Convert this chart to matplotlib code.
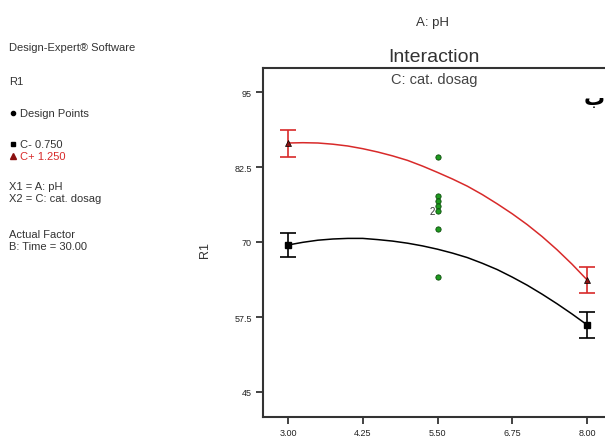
import numpy as np
import matplotlib
matplotlib.use("Agg")
import matplotlib.pyplot as plt

plt.rcParams['font.family'] = ['Liberation Sans', 'DejaVu Sans']

# ---------------- DATA ---------------- #
ph_levels = [3.00, 8.00]
c_minus_mean = [69.5, 56.2]
c_minus_err = [2.0, 2.2]
c_plus_mean = [86.5, 63.7]
c_plus_err = [2.25, 2.2]

curve_x = [3.0, 3.25, 3.5, 3.75, 4.0, 4.25, 4.5, 4.75, 5.0, 5.25, 5.5,
           5.75, 6.0, 6.25, 6.5, 6.75, 7.0, 7.25, 7.5, 7.75, 8.0]
c_minus_curve = [69.5, 69.95, 70.3, 70.5, 70.6, 70.6, 70.4, 70.15, 69.8, 69.35, 68.8,
                 68.15, 67.4, 66.45, 65.4, 64.15, 62.8, 61.3, 59.7, 58.0, 56.2]
c_plus_curve = [86.5, 86.55, 86.5, 86.3, 86.0, 85.55, 85.0, 84.35, 83.6, 82.65, 81.6,
                80.5, 79.3, 77.9, 76.35, 74.7, 72.9, 70.9, 68.7, 66.3, 63.7]

design_x = [5.50, 5.50, 5.50, 5.50, 5.50, 5.50, 5.50]
design_y = [84.1, 77.7, 76.9, 76.0, 75.2, 72.1, 64.1]

x_ticks = [3.00, 4.25, 5.50, 6.75, 8.00]
y_ticks = [45, 57.5, 70, 82.5, 95]

W, H = 605, 439

def fx(px):
    return px / W

def fy(py):
    return 1 - py / H

# ---------------- FIGURE ---------------- #
fig = plt.figure(figsize=(W / 100, H / 100), dpi=100)
ax = fig.add_axes([fx(263), fy(418), (612 - 263) / W, (418 - 69) / H])

# data -> pixel: x 3 at 288, 8 at 587 ; y 95 at 93, 45 at 393
ax.set_xlim(3 - 25 / 59.8, 3 + (612 - 288) / 59.8)
ax.set_ylim(45 - 25 / 6.0, 95 + 24 / 6.0)

# fitted lines
ax.plot(curve_x, c_minus_curve, color="black", lw=1.1)
ax.plot(curve_x, c_plus_curve, color="#d82a2a", lw=1.1)

# LSD bars
ax.errorbar(ph_levels, c_minus_mean, yerr=c_minus_err, fmt="s", color="black",
            ms=5, capsize=5.5, elinewidth=1.2, capthick=1.2)
ax.errorbar(ph_levels, c_plus_mean, yerr=c_plus_err, fmt="none", ecolor="#d82a2a",
            capsize=5.5, elinewidth=1.2, capthick=1.2)
ax.plot(ph_levels, c_plus_mean, "^", color="#8b1010", mec="black", mew=0.5, ms=5)

# design points
ax.plot(design_x, design_y, "o", color="#1e9a1e", mec="#0a4a0a", mew=0.6, ms=3.8, ls="none")
ax.text(5.50 - 0.05, design_y[4], "2", fontsize=7, ha="right", va="center", color="#333333")

ax.set_xticks(x_ticks)
ax.set_xticklabels([f"{v:.2f}" for v in x_ticks])
ax.set_yticks(y_ticks)
ax.set_yticklabels([f"{v:g}" for v in y_ticks])
ax.tick_params(direction="out", length=5, width=1.2, labelsize=6.5, colors="#222222", pad=3)
for s in ["left", "bottom", "top", "right"]:
    ax.spines[s].set_linewidth(1.5)
    ax.spines[s].set_color("#333333")

fig.text(fx(434), fy(80), "C: cat. dosag", ha="center", va="center",
         fontsize=10.5, color="#444444")
fig.text(fx(434), fy(57), "Interaction", ha="center", va="center", fontsize=14, color="#333333")
fig.text(fx(433), fy(23), "A: pH", ha="center", va="center", fontsize=9.5, color="#333333")
fig.text(fx(205), fy(250), "R1", rotation=90, ha="center", va="center", fontsize=9, color="#333333")
fig.text(fx(584), fy(99), "ب", ha="left", va="center", fontsize=15, fontweight="bold",
         family=["DejaVu Sans"], color="black")

# ---------------- LEFT INFO BLOCK ---------------- #
info = [
    (48, "Design-Expert® Software", "#333333"),
    (82, "R1", "#333333"),
    (114, "Design Points", "#333333"),
    (145, "C- 0.750", "#333333"),
    (157, "C+ 1.250", "#d82a2a"),
    (187, "X1 = A: pH", "#333333"),
    (199, "X2 = C: cat. dosag", "#333333"),
    (235, "Actual Factor", "#333333"),
    (247, "B: Time = 30.00", "#333333"),
]
for py, label, col in info:
    x0 = 20 if label in ("Design Points", "C- 0.750", "C+ 1.250") else 9
    fig.text(fx(x0), fy(py), label, ha="left", va="center", fontsize=8, color=col)

fig.lines.append(plt.Line2D([fx(13)], [fy(114)], marker="o", color="black", ms=3,
                            transform=fig.transFigure))
fig.lines.append(plt.Line2D([fx(13)], [fy(145)], marker="s", color="black", ms=3.5,
                            transform=fig.transFigure))
fig.lines.append(plt.Line2D([fx(13)], [fy(157)], marker="^", color="#8b1010", ms=4,
                            transform=fig.transFigure))

fig.savefig("out.png", dpi=100)
